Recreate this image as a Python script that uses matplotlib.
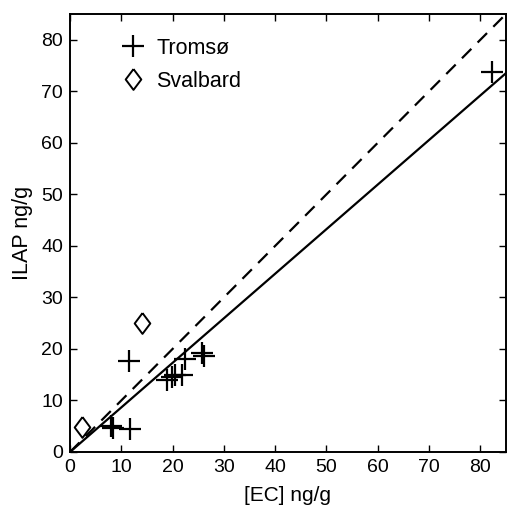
import numpy as np
import matplotlib
matplotlib.use("Agg")
import matplotlib.pyplot as plt

plt.rcParams['font.family'] = ['Liberation Sans', 'DejaVu Sans']

# Tromsø samples: EC vs ILAP (ng/g)
tromso_ec = [7.9, 8.4, 11.6, 11.5, 19.0, 19.9, 20.5, 21.8, 22.4, 25.7, 26.2, 82.2]
tromso_ilap = [5.0, 4.6, 4.4, 17.6, 14.0, 14.5, 15.0, 15.0, 18.0, 19.3, 18.7, 73.7]

# Svalbard samples
svalbard_ec = [2.3, 14.1]
svalbard_ilap = [4.8, 25.1]

# reference lines: 1:1 and fit
fit_slope = 0.865
line_x = [0, 85]

fig = plt.figure(figsize=(5.07, 5.08), dpi=100)
ax = fig.add_axes([70 / 507, 56 / 508, 436 / 507, 438 / 508])

diamond = [(0, 1), (0.75, 0), (0, -1), (-0.75, 0), (0, 1)]

ax.plot(line_x, line_x, '--', color='black', lw=1.6, dashes=(6, 4))
ax.plot(line_x, [fit_slope * v for v in line_x], '-', color='black', lw=1.6)
ax.plot(tromso_ec, tromso_ilap, '+', color='black', ms=16, mew=1.6, ls='none', label='Tromsø')
ax.plot(svalbard_ec, svalbard_ilap, marker=diamond, color='black', mfc='none', ms=15,
        mew=1.4, ls='none', label='Svalbard')

ax.set_xlim(0, 85)
ax.set_ylim(0, 85)
ax.set_xticks(range(0, 81, 10))
ax.set_yticks(range(0, 81, 10))
ax.tick_params(direction='in', length=5, width=1, top=True, right=True, labelsize=14, pad=5)
for s in ax.spines.values():
    s.set_linewidth(1.4)

ax.set_xlabel('[EC] ng/g', fontsize=15, labelpad=7)
ax.set_ylabel('ILAP ng/g', fontsize=15.5, labelpad=6)

ax.legend(loc='upper left', frameon=False, fontsize=15.5, bbox_to_anchor=(0.07, 0.99),
          handlelength=1.2, handletextpad=0.5, labelspacing=0.55)

fig.savefig('out.png', dpi=100)
